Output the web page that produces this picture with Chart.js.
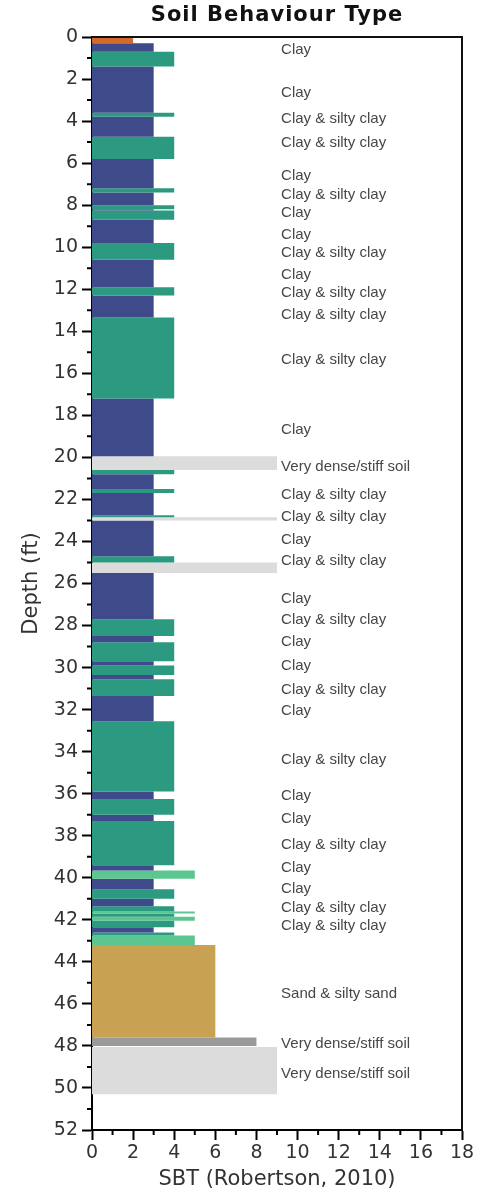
<!DOCTYPE html>
<html>
<head>
<meta charset="utf-8">
<script src="https://cdn.jsdelivr.net/npm/chart.js@4/dist/chart.umd.min.js"></script>
<style>
  html, body { margin: 0; padding: 0; background: #ffffff; }
  canvas { display: block; }
</style>
</head>
<body>
<canvas id="sbt" width="486" height="1194"></canvas>
<script>
// CPT soil behaviour type profile: each layer runs from a top depth to a bottom depth (ft)
const layerTop = [0, 0.3, 0.7, 1.4, 3.6, 3.8, 4.75, 5.8, 7.2, 7.4, 8.0, 8.2, 8.25, 8.7, 9.8,
  10.6, 11.9, 12.3, 13.35, 17.2, 19.95, 20.6, 20.8, 21.5, 21.7, 22.75, 22.85, 23.0, 24.7, 25.0,
  25.5, 27.7, 28.5, 28.8, 29.7, 29.9, 30.35, 30.55, 31.35, 32.55, 35.9, 36.25, 37.0, 37.3, 39.4,
  39.65, 40.05, 40.55, 41.0, 41.35, 41.6, 41.7, 41.85, 42.05, 42.35, 42.6, 42.75, 43.2, 47.6, 48.05];
const layerBottom = [0.3, 0.7, 1.4, 3.6, 3.8, 4.75, 5.8, 7.2, 7.4, 8.0, 8.2, 8.25, 8.7, 9.8, 10.6,
  11.9, 12.3, 13.35, 17.2, 19.95, 20.6, 20.8, 21.5, 21.7, 22.75, 22.85, 23.0, 24.7, 25.0, 25.5,
  27.7, 28.5, 28.8, 29.7, 29.9, 30.35, 30.55, 31.35, 32.55, 35.9, 36.25, 37.0, 37.3, 39.4, 39.65,
  40.05, 40.55, 41.0, 41.35, 41.6, 41.7, 41.85, 42.05, 42.35, 42.6, 42.75, 43.2, 47.6, 48.0, 50.3];
// SBT zone (Robertson, 2010) of each layer
const layerSbt = [2, 3, 4, 3, 4, 3, 4, 3, 4, 3, 4, 3, 4, 3, 4,
  3, 4, 3, 4, 3, 9, 4, 3, 4, 3, 4, 9, 3, 4, 9,
  3, 4, 3, 4, 3, 4, 3, 4, 3, 4, 3, 4, 3, 4, 3,
  5, 3, 4, 3, 4, 5, 4, 5, 4, 3, 4, 5, 6, 8, 9];

// Soil description annotations down the profile
const labelDepths = [0.6, 2.65, 3.9, 5.05, 6.6, 7.5, 8.35, 9.4, 10.25, 11.3, 12.15, 13.2, 15.35,
  18.7, 20.45, 21.8, 22.85, 23.9, 24.9, 26.75, 27.75, 28.8, 29.9, 31.05, 32.05, 34.4,
  36.1, 37.2, 38.45, 39.55, 40.55, 41.45, 42.3, 45.5, 47.9, 49.35];
const labelTexts = ['Clay', 'Clay', 'Clay & silty clay', 'Clay & silty clay', 'Clay',
  'Clay & silty clay', 'Clay', 'Clay', 'Clay & silty clay', 'Clay', 'Clay & silty clay',
  'Clay & silty clay', 'Clay & silty clay', 'Clay', 'Very dense/stiff soil',
  'Clay & silty clay', 'Clay & silty clay', 'Clay', 'Clay & silty clay', 'Clay',
  'Clay & silty clay', 'Clay', 'Clay', 'Clay & silty clay', 'Clay', 'Clay & silty clay',
  'Clay', 'Clay', 'Clay & silty clay', 'Clay', 'Clay', 'Clay & silty clay', 'Clay & silty clay',
  'Sand & silty sand', 'Very dense/stiff soil', 'Very dense/stiff soil'];
const labelSbt = 9.2;

const depthTicks = { min: 0, max: 52, step: 2 };
const sbtTicks = { min: 0, max: 18, step: 2 };

const zoneColors = {
  1: '#c0392b', 2: '#d4692c', 3: '#3f4a8a', 4: '#2b9a80', 5: '#5cc690',
  6: '#c9a152', 7: '#b08040', 8: '#9a9a9a', 9: '#dcdcdc'
};

// one closed polygon per layer, filled from SBT = 0 out to the layer's zone value
const datasets = layerTop.map((top, i) => ({
  data: [
    { x: 0, y: top },
    { x: layerSbt[i], y: top },
    { x: layerSbt[i], y: layerBottom[i] },
    { x: 0, y: layerBottom[i] }
  ],
  showLine: true,
  fill: 'shape',
  backgroundColor: zoneColors[layerSbt[i]],
  borderColor: zoneColors[layerSbt[i]],
  borderWidth: 0,
  pointRadius: 0,
  pointHoverRadius: 0
}));

// frame, minor ticks, heading and layer descriptions
const profileDecor = {
  id: 'profileDecor',
  afterDraw(chart) {
    const { ctx, chartArea: a, scales: { x, y } } = chart;
    ctx.save();
    ctx.strokeStyle = '#111';
    ctx.lineWidth = 2;
    ctx.beginPath();
    ctx.moveTo(a.left, a.top);
    ctx.lineTo(a.right, a.top);
    ctx.lineTo(a.right, a.bottom);
    ctx.stroke();

    ctx.strokeStyle = '#000';
    ctx.beginPath();
    for (let d = depthTicks.min + 1; d < depthTicks.max; d += depthTicks.step) {
      const py = y.getPixelForValue(d);
      ctx.moveTo(a.left - 5, py);
      ctx.lineTo(a.left, py);
    }
    for (let s = sbtTicks.min + 1; s < sbtTicks.max; s += sbtTicks.step) {
      const px = x.getPixelForValue(s);
      ctx.moveTo(px, a.bottom);
      ctx.lineTo(px, a.bottom + 5);
    }
    ctx.stroke();

    ctx.fillStyle = '#474747';
    ctx.font = '15px "Liberation Sans", Arial, sans-serif';
    ctx.textAlign = 'left';
    ctx.textBaseline = 'middle';
    const lx = x.getPixelForValue(labelSbt);
    labelTexts.forEach((t, i) => ctx.fillText(t, lx, y.getPixelForValue(labelDepths[i])));

    ctx.fillStyle = '#111';
    ctx.font = 'bold 21px "DejaVu Sans", Verdana, sans-serif';
    ctx.letterSpacing = '1px';
    ctx.textAlign = 'center';
    ctx.fillText('Soil Behaviour Type', (a.left + a.right) / 2, 16);
    ctx.restore();
  }
};

const tickFont = { family: '"DejaVu Sans", Verdana, sans-serif', size: 19 };
const titleFont = { family: '"DejaVu Sans", Verdana, sans-serif', size: 21 };

new Chart(document.getElementById('sbt'), {
  type: 'scatter',
  data: { datasets },
  options: {
    responsive: false,
    devicePixelRatio: 1,
    animation: false,
    events: [],
    layout: { padding: { top: 37, right: 24, left: 0, bottom: 0 } },
    plugins: { legend: { display: false }, tooltip: { enabled: false }, title: { display: false } },
    scales: {
      x: {
        type: 'linear',
        position: 'bottom',
        min: sbtTicks.min,
        max: sbtTicks.max,
        afterFit(scale) { scale.height = 64; },
        border: { display: true, color: '#000', width: 2 },
        grid: { display: true, drawOnChartArea: false, tickLength: 10, tickColor: '#000', tickWidth: 2 },
        ticks: { stepSize: sbtTicks.step, autoSkip: false, maxRotation: 0, padding: 2, color: '#333', font: tickFont },
        title: { display: true, text: 'SBT (Robertson, 2010)', color: '#333', font: titleFont, padding: { top: 0, bottom: 2 } }
      },
      y: {
        type: 'linear',
        position: 'left',
        reverse: true,
        min: depthTicks.min,
        max: depthTicks.max,
        afterFit(scale) { scale.width = 92; },
        border: { display: true, color: '#000', width: 2 },
        grid: { display: true, drawOnChartArea: false, tickLength: 10, tickColor: '#000', tickWidth: 2 },
        ticks: { stepSize: depthTicks.step, autoSkip: false, padding: 4, color: '#333', font: tickFont },
        title: { display: true, text: 'Depth (ft)', color: '#333', font: titleFont, padding: { top: 19, bottom: 0 } }
      }
    }
  },
  plugins: [profileDecor]
});
</script>
</body>
</html>
